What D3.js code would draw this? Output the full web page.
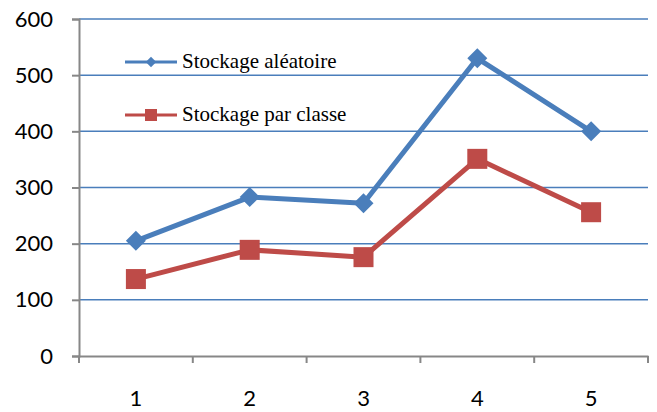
<!DOCTYPE html>
<html><head><meta charset="utf-8">
<script src="https://cdn.jsdelivr.net/npm/d3@7"></script>
<style>html,body{margin:0;padding:0;background:#fff;}svg{display:block;}
.num{font-family:"Lato","Open Sans",sans-serif;font-size:22px;fill:#000;}
.leg{font-family:"Liberation Serif","Times New Roman",serif;font-size:21px;fill:#000;}
</style>
</head><body>
<svg id="c" width="657" height="412"></svg>
<script>
const categories = ["1","2","3","4","5"];
const seriesNames = ["Stockage aléatoire","Stockage par classe"];
const aleatoire = [205, 283, 272, 530, 400];
const parClasse = [137, 189, 176, 351, 256];
const yTicks = [0,100,200,300,400,500,600];

const colors = ["#4A7EBB","#BE4B48"];
const svg = d3.select("#c");
const m = {l:79, r:648, t:19, b:356};
const x = d3.scaleBand().domain(categories).range([m.l, m.r]);
const y = d3.scaleLinear().domain([0,600]).range([m.b, m.t]);

// gridlines
svg.append("g").selectAll("line").data(yTicks.filter(d=>d>0)).join("line")
  .attr("x1", m.l).attr("x2", m.r)
  .attr("y1", d=>y(d)).attr("y2", d=>y(d))
  .attr("stroke", "#4A7EBB").attr("stroke-width", 1.5);

// y axis
const yAxis = svg.append("g").attr("transform", `translate(${m.l},0)`)
  .call(d3.axisLeft(y).tickValues(yTicks).tickSize(7).tickPadding(19));
yAxis.attr("font-family", null).attr("font-size", null);
yAxis.select(".domain").attr("stroke","#878787").attr("stroke-width",2);
yAxis.selectAll(".tick line").attr("stroke","#878787").attr("stroke-width",2);
yAxis.selectAll("text").attr("class","num").attr("fill", null);

// x axis
const xAxis = svg.append("g").attr("transform", `translate(0,${m.b})`)
  .call(d3.axisBottom(x).tickSize(0).tickPadding(34));
xAxis.attr("font-family", null).attr("font-size", null);
xAxis.select(".domain").attr("stroke","#878787").attr("stroke-width",2);
xAxis.selectAll("text").attr("class","num").attr("fill", null);
// category boundary ticks
const bounds = categories.map(c=>x(c)).concat([x(categories[categories.length-1])+x.bandwidth()]);
svg.append("g").selectAll("line").data(bounds).join("line")
  .attr("x1", d=>d).attr("x2", d=>d).attr("y1", m.b).attr("y2", m.b+7)
  .attr("stroke","#878787").attr("stroke-width",2);

const cx = d => x(d) + x.bandwidth()/2;
const line = d3.line().x(d=>cx(d.c)).y(d=>y(d.v));
const data = [aleatoire, parClasse].map(arr => arr.map((v,i)=>({c:categories[i], v})));

data.forEach((s,si)=>{
  svg.append("path").datum(s).attr("d", line).attr("fill","none")
    .attr("stroke", colors[si]).attr("stroke-width",5).attr("stroke-linejoin","round");
});
// markers
svg.append("g").selectAll("path").data(data[0]).join("path")
  .attr("d", d3.symbol().type(d3.symbolSquare).size(200))
  .attr("transform", d=>`translate(${cx(d.c)},${y(d.v)}) rotate(45)`)
  .attr("fill", colors[0]);
svg.append("g").selectAll("rect").data(data[1]).join("rect")
  .attr("x", d=>cx(d.c)-10).attr("y", d=>y(d.v)-10).attr("width",20).attr("height",20)
  .attr("fill", colors[1]);

// legend
const leg = svg.append("g");
const ly = [62, 115];
seriesNames.forEach((n,i)=>{
  leg.append("line").attr("x1",125).attr("x2",177).attr("y1",ly[i]).attr("y2",ly[i])
    .attr("stroke",colors[i]).attr("stroke-width",3);
  if(i===0){
    leg.append("path").attr("d", d3.symbol().type(d3.symbolSquare).size(55))
      .attr("transform",`translate(151,${ly[i]}) rotate(45)`).attr("fill",colors[i]);
  } else {
    leg.append("rect").attr("x",145).attr("y",ly[i]-6).attr("width",12).attr("height",12).attr("fill",colors[i]);
  }
  leg.append("text").attr("class","leg").attr("x",182).attr("y",ly[i]+6).text(n);
});
</script>
</body></html>
